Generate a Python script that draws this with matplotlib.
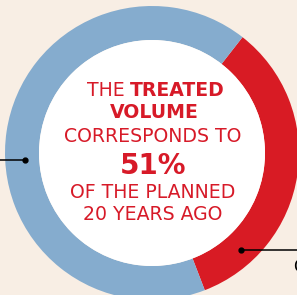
import matplotlib
matplotlib.use("Agg")
import matplotlib.pyplot as plt
from matplotlib.patches import Circle

# Data
labels = ["Treated", "Remaining"]
values = [33.6, 66.4]
colors = ["#d81b24", "#85acce"]
headline_pct = "51%"

W, H = 297, 295
fig = plt.figure(figsize=(W / 100, H / 100), dpi=100)
fig.patch.set_facecolor("#f8eee4")
ax = fig.add_axes([0, 0, 1, 1])
ax.set_facecolor("#f8eee4")

cx, cy = 152, H - 153
R, r = 147, 113
ax.pie(values, colors=colors, startangle=52, counterclock=False,
       center=(cx, cy), radius=R, frame=True,
       wedgeprops=dict(width=R - r, linewidth=0))
ax.add_patch(Circle((cx, cy), r, facecolor="white", edgecolor="none", zorder=3))

ax.set_xlim(0, W)
ax.set_ylim(0, H)
ax.set_aspect("equal")
ax.axis("off")

red = "#d71a28"
fam = "DejaVu Sans"
fs = 13.6
def T(y, s, size, weight="normal", x=cx, ha="center"):
    ax.text(x, H - y, s, ha=ha, va="center", fontsize=size, color=red,
            fontweight=weight, family=fam, zorder=5)

T(91, "THE", fs, x=125, ha="right")
T(91, "TREATED", fs, "bold", x=130, ha="left")
T(113, "VOLUME", fs, "bold", x=154)
T(136, "CORRESPONDS TO", fs, x=153)
T(166, headline_pct, 20, "bold", x=153)
T(193, "OF THE PLANNED", fs, x=153)
T(215, "20 YEARS AGO", fs, x=153)

# connectors
ax.plot([0, 25], [H - 160, H - 160], color="black", lw=1.1, zorder=6)
ax.plot([25], [H - 160], "o", color="black", ms=3.5, zorder=6)
ax.plot([241, W], [H - 250, H - 250], color="black", lw=1.1, zorder=6)
ax.plot([241], [H - 250], "o", color="black", ms=3.5, zorder=6)
ax.text(293, H - 267, "C", ha="left", va="center", fontsize=12, color="black",
        family=fam, zorder=6)

fig.savefig("out.png", dpi=100, facecolor=fig.get_facecolor())
